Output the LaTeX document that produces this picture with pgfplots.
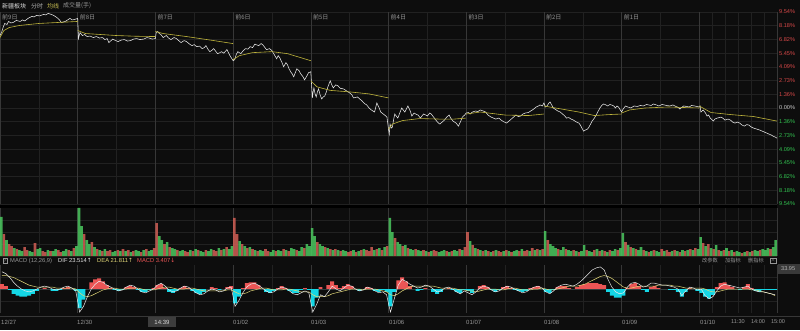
\documentclass[border=0pt]{standalone}
\usepackage{fontspec}
\setmainfont{Liberation Sans}
\newfontfamily\cjk{Noto Sans CJK SC}
\newfontfamily\djv{DejaVu Sans}
\usepackage{pgfplots}
\pgfplotsset{compat=1.18}
\usepackage{pgfplotstable}
\definecolor{bg}{RGB}{13,13,13}
\definecolor{gridc}{RGB}{33,33,33}
\definecolor{dayc}{RGB}{55,55,55}
\definecolor{pw}{RGB}{232,232,232}
\definecolor{py}{RGB}{190,180,60}
\definecolor{upr}{RGB}{215,72,72}
\definecolor{dng}{RGB}{50,195,80}
\definecolor{vr}{RGB}{210,95,85}
\definecolor{vg}{RGB}{75,200,95}
\definecolor{mr}{RGB}{235,85,85}
\definecolor{mc}{RGB}{20,215,230}
\definecolor{deac}{RGB}{225,215,120}
\definecolor{txt}{RGB}{150,150,150}

\pgfplotstableread[row sep=\\]{r g\\
0 39\\ 22 0\\ 0 16\\ 12 0\\ 10 0\\ 0 8\\ 7 0\\ 0 6\\ 0 5\\ 9 0\\ 6 0\\ 0 5\\ 0 4\\ 13 0\\ 0 7\\ 0 8\\ 5 0\\ 4 0\\ 0 6\\ 5 0\\ 0 5\\ 0 7\\ 6 0\\ 4 0\\ 0 5\\ 0 7\\ 6 0\\ 0 5\\ 8 0\\ 0 10\\
0 48\\ 0 30\\ 22 0\\ 0 16\\ 0 12\\ 14 0\\ 0 9\\ 7 0\\ 0 6\\ 5 0\\ 0 7\\ 5 0\\ 6 0\\ 0 4\\ 0 5\\ 6 0\\ 0 5\\ 7 0\\ 0 5\\ 6 0\\ 0 4\\ 5 0\\ 0 6\\ 0 5\\ 4 0\\ 0 6\\ 7 0\\ 0 5\\ 0 6\\ 8 0\\
33 0\\ 0 20\\ 0 16\\ 12 0\\ 0 14\\ 9 0\\ 0 8\\ 0 7\\ 6 0\\ 0 5\\ 0 6\\ 5 0\\ 4 0\\ 0 6\\ 5 0\\ 0 7\\ 6 0\\ 0 5\\ 0 4\\ 6 0\\ 0 5\\ 0 7\\ 6 0\\ 5 0\\ 0 8\\ 6 0\\ 0 7\\ 9 0\\ 0 7\\ 0 10\\
38 0\\ 22 0\\ 0 15\\ 12 0\\ 0 10\\ 8 0\\ 0 9\\ 7 0\\ 0 6\\ 5 0\\ 0 6\\ 0 5\\ 7 0\\ 5 0\\ 0 4\\ 0 6\\ 5 0\\ 0 6\\ 0 5\\ 7 0\\ 0 6\\ 5 0\\ 0 8\\ 0 7\\ 6 0\\ 0 5\\ 0 9\\ 8 0\\ 0 12\\ 0 10\\
0 28\\ 0 20\\ 14 0\\ 0 12\\ 0 10\\ 9 0\\ 0 8\\ 7 0\\ 0 6\\ 7 0\\ 0 6\\ 5 0\\ 0 6\\ 0 5\\ 4 0\\ 5 0\\ 0 6\\ 4 0\\ 0 5\\ 6 0\\ 0 7\\ 6 0\\ 5 0\\ 9 0\\ 0 6\\ 7 0\\ 0 8\\ 6 0\\ 0 9\\ 10 0\\
0 38\\ 0 24\\ 18 0\\ 0 14\\ 0 12\\ 10 0\\ 0 11\\ 8 0\\ 0 7\\ 0 6\\ 7 0\\ 0 6\\ 0 5\\ 6 0\\ 0 5\\ 4 0\\ 0 5\\ 6 0\\ 5 0\\ 0 4\\ 0 5\\ 0 6\\ 5 0\\ 0 4\\ 5 0\\ 0 6\\ 0 5\\ 7 0\\ 0 6\\ 9 0\\
24 0\\ 0 15\\ 11 0\\ 0 8\\ 7 0\\ 0 6\\ 5 0\\ 0 6\\ 5 0\\ 0 4\\ 5 0\\ 0 6\\ 5 0\\ 4 0\\ 0 5\\ 6 0\\ 0 5\\ 4 0\\ 0 5\\ 0 6\\ 5 0\\ 0 7\\ 5 0\\ 6 0\\ 0 5\\ 8 0\\ 0 6\\ 7 0\\ 0 6\\ 7 0\\
0 25\\ 16 0\\ 0 12\\ 0 10\\ 0 8\\ 7 0\\ 0 6\\ 0 9\\ 7 0\\ 0 6\\ 0 5\\ 6 0\\ 0 5\\ 4 0\\ 0 5\\ 0 11\\ 6 0\\ 0 5\\ 0 4\\ 6 0\\ 0 7\\ 5 0\\ 0 6\\ 5 0\\ 0 4\\ 6 0\\ 0 5\\ 0 7\\ 6 0\\ 0 8\\
0 23\\ 14 0\\ 0 11\\ 9 0\\ 0 8\\ 7 0\\ 0 6\\ 0 9\\ 6 0\\ 0 5\\ 4 0\\ 0 5\\ 6 0\\ 0 5\\ 0 4\\ 7 0\\ 0 5\\ 6 0\\ 4 0\\ 0 5\\ 6 0\\ 0 5\\ 4 0\\ 0 6\\ 5 0\\ 0 6\\ 7 0\\ 0 6\\ 8 0\\ 0 7\\
0 19\\ 13 0\\ 0 10\\ 12 0\\ 0 8\\ 7 0\\ 0 11\\ 6 0\\ 0 5\\ 6 0\\ 0 8\\ 5 0\\ 0 6\\ 4 0\\ 0 5\\ 0 4\\ 3 0\\ 0 4\\ 5 0\\ 0 4\\ 5 0\\ 0 6\\ 0 5\\ 6 0\\ 0 7\\ 0 6\\ 0 8\\ 7 0\\ 0 9\\ 0 16\\
}\vol

\pgfplotstableread[row sep=\\]{h dif dea\\
5 18 14\\ 3 16 14\\ -1 12 13\\ -5 7 12\\ -7 3 10\\ -8 0 8\\ -8 -2 6\\ -7 -3 4\\ -5 -2 3\\ -2 0 2\\ 0 2 2\\ 1 3 2\\ 0 2 2\\ -2 0 2\\ -2 -1 1\\ -1 0 1\\ 1 2 1\\ 2 3 1\\ 0 1 1\\ -2 -2 0\\
-20 -24 -4\\ -11 -18 -7\\ 0 -8 -8\\ 7 0 -7\\ 10 5 -5\\ 11 8 -3\\ 8 7 -1\\ 4 4 0\\ 1 2 1\\ -1 0 1\\ -2 -2 0\\ -1 -1 0\\ 2 2 0\\ 3 4 1\\ 2 3 1\\ -1 0 1\\ -3 -3 0\\ -3 -4 -1\\ -1 -2 -1\\ 1 0 -1\\
4 4 0\\ 5 6 1\\ 1 3 2\\ -3 -1 2\\ -4 -3 1\\ -2 -2 0\\ 1 1 0\\ 3 3 0\\ 1 2 1\\ -2 -1 1\\ -4 -4 0\\ -5 -6 -1\\ -3 -5 -2\\ 0 -2 -2\\ 2 0 -2\\ 1 -1 -2\\ -1 -3 -2\\ 0 -2 -2\\ 2 1 -1\\ 3 2 -1\\
-15 -18 -3\\ -8 -12 -5\\ 1 -4 -5\\ 6 2 -4\\ 7 5 -2\\ 7 6 -1\\ 4 4 0\\ 0 1 1\\ -3 -2 1\\ -4 -4 0\\ -2 -3 -1\\ 1 0 -1\\ 3 2 -1\\ 1 1 0\\ -2 -2 0\\ -4 -5 -1\\ -4 -6 -2\\ -1 -4 -3\\ 1 -2 -3\\ -1 -4 -3\\
-18 -24 -6\\ -9 -16 -8\\ 2 -6 -8\\ 0 -8 -8\\ 4 -3 -7\\ 8 3 -5\\ 4 0 -4\\ 1 -2 -3\\ 3 1 -2\\ 5 4 -1\\ 3 3 0\\ 0 0 0\\ -2 -2 0\\ 0 -1 -1\\ 2 2 0\\ 1 1 0\\ -2 -2 0\\ -3 -4 -1\\ -1 -3 -2\\ -3 -6 -3\\
-18 -24 -6\\ -3 -10 -7\\ 9 4 -5\\ 12 10 -2\\ 8 8 0\\ 3 5 2\\ 0 3 3\\ -2 1 3\\ -1 2 3\\ 1 4 3\\ 0 3 3\\ -3 0 3\\ -5 -3 2\\ -3 -2 1\\ 0 1 1\\ 1 2 1\\ -1 0 1\\ -3 -3 0\\ -4 -5 -1\\ -1 -2 -1\\
-2 -4 -2\\ -4 -6 -2\\ 0 -3 -3\\ 3 1 -2\\ 4 3 -1\\ 2 2 0\\ -1 -1 0\\ -3 -3 0\\ -1 -2 -1\\ 2 1 -1\\ 3 3 0\\ 1 2 1\\ -1 0 1\\ -2 -2 0\\ -3 -4 -1\\ -2 -3 -1\\ 1 0 -1\\ 2 2 0\\ 3 3 0\\ 0 1 1\\
-3 -3 0\\ -4 -5 -1\\ -1 -2 -1\\ 2 2 0\\ 3 4 1\\ 3 5 2\\ 1 4 3\\ 0 3 3\\ 2 5 3\\ 4 8 4\\ 5 12 5\\ 6 16 7\\ 6 20 9\\ 6 22 11\\ 5 23 13\\ 4 20 14\\ -3 10 13\\ -7 2 11\\ -9 -3 8\\ -9 -5 5\\
-7 -4 2\\ 1 2 1\\ 5 6 1\\ 6 7 2\\ 3 5 3\\ -1 2 3\\ -3 3 3\\ 2 6 3\\ 3 6 3\\ 1 5 4\\ 0 4 4\\ 0 4 4\\ -1 3 4\\ -1 2 3\\ -3 0 3\\ -8 -7 2\\ -3 -2 1\\ 1 2 1\\ 0 1 1\\ -2 -1 1\\
-4 0 1\\ -8 -7 0\\ -10 -10 -2\\ -6 -8 -3\\ 2 -2 -3\\ 6 3 -2\\ 7 5 -1\\ 4 4 0\\ 2 3 0\\ 0 2 0\\ -1 1 0\\ 2 2 0\\ 5 3 0\\ 1 0 -1\\ -2 -2 -1\\ -3 -3 -2\\ -1 -3 -3\\ -1 -4 -4\\ -1 -5 -5\\ -1 -6 -7\\
}\macd

\pgfplotsset{panel/.style={scale only axis, width=777pt, xmin=0, xmax=10,
  axis line style={draw=none}, major tick length=0pt,
  xtick={0.5,1.5,2.5,3.5,4.5,5.5,6.5,7.5,8.5,9.1667,9.3333,9.5,9.6667,9.8333},
  xmajorticks=false, ymajorticks=false,
  xmajorgrids, ymajorgrids, major grid style={gridc, line width=0.4pt},
  extra x ticks={0,1,2,3,4,5,6,7,8,9,10},
  extra x tick style={grid=major, xmajorticks=false, major grid style={dayc, line width=0.5pt}}}}

\begin{document}
\begin{tikzpicture}
\fill[bg] (0pt,0pt) rectangle (800pt,330pt);
\fill[black] (0pt,122pt) rectangle (777pt,126pt);

% header
\node[anchor=west, inner sep=0pt, text=white!85!black, font=\cjk\fontsize{6}{7}\selectfont] at (2pt,324pt) {新疆板块};
\node[anchor=west, inner sep=0pt, text=white!70!black, font=\cjk\fontsize{6}{7}\selectfont] at (31pt,324pt) {分时};
\node[anchor=west, inner sep=0pt, text=py!90!white, font=\cjk\fontsize{6}{7}\selectfont] at (47pt,324pt) {均线};
\node[anchor=west, inner sep=0pt, text=txt, font=\cjk\fontsize{6}{7}\selectfont] at (63pt,324pt) {成交量(手)};

% main price panel
\begin{axis}[panel, at={(0pt,126pt)}, anchor=south west, height=192pt,
  ymin=-9.54, ymax=9.54,
  ytick={-9.54,-8.18,-6.82,-5.45,-4.09,-2.73,-1.36,0,1.36,2.73,4.09,5.45,6.82,8.18,9.54}]
\addplot[pw, line width=0.55pt] table[row sep=\\] {x y\\
0 7.2\\ 0.02 7.5\\ 0.04 8.0\\ 0.06 8.4\\ 0.09 8.3\\ 0.11 8.6\\ 0.14 8.45\\ 0.17 8.5\\ 0.21 8.7\\ 0.26 8.6\\ 0.29 8.75\\ 0.32 8.65\\ 0.36 8.9\\ 0.41 9.1\\ 0.44 9.05\\ 0.47 9.2\\ 0.51 9.15\\ 0.56 9.3\\ 0.59 9.25\\ 0.62 9.4\\ 0.66 9.3\\ 0.69 9.2\\ 0.73 9.0\\ 0.76 8.8\\ 0.79 8.5\\ 0.84 8.6\\ 0.87 8.75\\ 0.9 8.9\\ 0.93 8.75\\ 0.96 8.8\\ 1.0 8.9\\
1.01 6.9\\ 1.03 7.5\\ 1.06 7.2\\ 1.09 7.3\\ 1.12 7.1\\ 1.16 7.15\\ 1.2 7.0\\ 1.24 7.1\\ 1.28 6.95\\ 1.32 7.0\\ 1.35 6.8\\ 1.38 6.9\\ 1.4 6.5\\ 1.43 6.7\\ 1.45 6.85\\ 1.49 6.7\\ 1.52 6.6\\ 1.56 6.75\\ 1.6 6.8\\ 1.64 6.65\\ 1.68 6.7\\ 1.72 6.85\\ 1.76 6.9\\ 1.8 6.8\\ 1.85 6.85\\ 1.89 7.0\\ 1.92 6.95\\ 1.96 6.85\\ 2.0 6.9\\
2.01 7.5\\ 2.03 7.6\\ 2.05 7.4\\ 2.07 7.3\\ 2.1 7.0\\ 2.14 7.2\\ 2.17 6.95\\ 2.2 6.8\\ 2.24 7.0\\ 2.27 6.9\\ 2.3 6.7\\ 2.33 6.5\\ 2.37 6.7\\ 2.4 6.6\\ 2.44 6.35\\ 2.47 6.2\\ 2.5 6.3\\ 2.53 6.1\\ 2.57 6.15\\ 2.6 5.9\\ 2.63 6.0\\ 2.65 6.2\\ 2.68 5.8\\ 2.7 5.6\\ 2.73 5.75\\ 2.75 5.9\\ 2.78 5.6\\ 2.8 5.4\\ 2.83 5.5\\ 2.85 5.6\\ 2.88 5.45\\ 2.92 5.8\\ 2.96 5.2\\ 3.0 4.7\\
3.02 4.8\\ 3.04 5.3\\ 3.06 5.6\\ 3.1 5.4\\ 3.13 5.7\\ 3.16 5.9\\ 3.19 5.85\\ 3.22 6.1\\ 3.25 6.0\\ 3.28 6.35\\ 3.31 6.25\\ 3.33 6.2\\ 3.36 6.4\\ 3.38 6.3\\ 3.41 6.0\\ 3.43 5.8\\ 3.47 5.9\\ 3.5 5.7\\ 3.53 5.3\\ 3.56 4.9\\ 3.58 5.2\\ 3.6 5.0\\ 3.63 4.5\\ 3.65 4.1\\ 3.68 4.5\\ 3.7 4.3\\ 3.72 3.9\\ 3.74 3.6\\ 3.76 3.4\\ 3.78 3.1\\ 3.8 3.5\\ 3.82 3.9\\ 3.85 3.7\\ 3.87 3.4\\ 3.9 3.1\\ 3.92 2.8\\ 3.95 3.2\\ 3.97 3.5\\ 4.0 3.6\\
4.02 1.0\\ 4.03 1.6\\ 4.04 2.0\\ 4.055 1.4\\ 4.07 1.1\\ 4.085 1.6\\ 4.1 1.9\\ 4.12 1.3\\ 4.14 0.9\\ 4.16 1.1\\ 4.18 1.2\\ 4.2 1.6\\ 4.22 2.1\\ 4.25 2.7\\ 4.27 2.3\\ 4.29 2.0\\ 4.32 2.3\\ 4.35 2.2\\ 4.38 1.95\\ 4.42 1.9\\ 4.46 1.7\\ 4.5 1.5\\ 4.53 1.3\\ 4.55 1.0\\ 4.6 1.1\\ 4.63 0.9\\ 4.66 0.7\\ 4.69 0.45\\ 4.72 0.3\\ 4.75 0.0\\ 4.78 -0.2\\ 4.82 -0.4\\ 4.85 0.5\\ 4.88 0.0\\ 4.9 -0.4\\ 4.95 -0.7\\ 4.98 -0.9\\ 5.0 -2.1\\
5.01 -2.6\\ 5.02 -1.6\\ 5.035 -2.0\\ 5.05 -1.9\\ 5.065 -1.2\\ 5.08 -0.6\\ 5.1 -0.8\\ 5.12 -1.0\\ 5.15 -0.4\\ 5.17 0.0\\ 5.19 -0.2\\ 5.21 -0.4\\ 5.23 -0.1\\ 5.25 0.2\\ 5.28 -0.3\\ 5.3 -0.8\\ 5.33 -0.5\\ 5.35 -0.6\\ 5.38 -0.7\\ 5.41 -1.0\\ 5.43 -0.8\\ 5.45 -0.6\\ 5.48 -0.7\\ 5.5 -0.8\\ 5.53 -0.5\\ 5.55 -0.6\\ 5.58 -0.9\\ 5.6 -1.1\\ 5.63 -1.4\\ 5.66 -1.6\\ 5.69 -1.4\\ 5.72 -1.2\\ 5.75 -0.9\\ 5.78 -0.7\\ 5.8 -1.0\\ 5.83 -1.3\\ 5.87 -1.5\\ 5.9 -1.8\\ 5.93 -1.3\\ 5.95 -0.9\\ 5.98 -0.7\\ 6.0 -0.5\\
6.03 -0.45\\ 6.05 -0.6\\ 6.08 -0.4\\ 6.12 -0.3\\ 6.15 -0.35\\ 6.18 -0.2\\ 6.22 -0.3\\ 6.25 -0.4\\ 6.28 -0.7\\ 6.32 -0.9\\ 6.35 -1.0\\ 6.38 -1.1\\ 6.42 -1.0\\ 6.45 -1.2\\ 6.48 -1.35\\ 6.52 -1.5\\ 6.55 -1.3\\ 6.58 -1.1\\ 6.61 -0.9\\ 6.64 -0.7\\ 6.67 -0.85\\ 6.7 -0.8\\ 6.73 -0.6\\ 6.76 -0.5\\ 6.8 -0.45\\ 6.83 -0.3\\ 6.87 -0.1\\ 6.9 0.1\\ 6.93 0.2\\ 6.95 0.3\\ 6.98 0.2\\ 7.0 0.5\\
7.02 0.1\\ 7.04 0.2\\ 7.06 0.45\\ 7.08 0.6\\ 7.1 0.3\\ 7.12 0.0\\ 7.15 -0.15\\ 7.18 -0.3\\ 7.21 -0.4\\ 7.24 -0.6\\ 7.27 -0.8\\ 7.29 -1.0\\ 7.32 -0.95\\ 7.35 -1.1\\ 7.38 -1.2\\ 7.42 -1.4\\ 7.45 -1.5\\ 7.47 -1.7\\ 7.49 -2.0\\ 7.51 -2.3\\ 7.53 -2.2\\ 7.56 -2.1\\ 7.58 -1.9\\ 7.6 -1.6\\ 7.62 -1.3\\ 7.65 -1.0\\ 7.68 -0.6\\ 7.7 -0.3\\ 7.72 0.0\\ 7.75 0.3\\ 7.77 0.4\\ 7.8 0.3\\ 7.82 0.2\\ 7.85 0.35\\ 7.87 0.3\\ 7.9 0.2\\ 7.92 0.0\\ 7.94 0.2\\ 7.96 0.1\\ 8.0 -0.4\\
8.02 -0.1\\ 8.05 0.2\\ 8.08 0.1\\ 8.12 0.0\\ 8.16 0.2\\ 8.2 0.15\\ 8.24 0.25\\ 8.28 0.2\\ 8.32 0.35\\ 8.35 0.3\\ 8.38 0.25\\ 8.41 0.4\\ 8.45 0.3\\ 8.48 0.2\\ 8.52 0.35\\ 8.55 0.3\\ 8.58 0.25\\ 8.62 0.2\\ 8.66 0.3\\ 8.7 0.15\\ 8.73 0.05\\ 8.75 -0.1\\ 8.78 0.1\\ 8.8 0.2\\ 8.84 0.15\\ 8.87 0.1\\ 8.9 0.25\\ 8.94 0.2\\ 8.97 0.15\\ 9.0 0.1\\
9.01 0.2\\ 9.02 -0.4\\ 9.05 -0.2\\ 9.08 -0.5\\ 9.1 -0.8\\ 9.12 -0.7\\ 9.14 -1.0\\ 9.16 -1.15\\ 9.18 -1.3\\ 9.2 -1.1\\ 9.23 -1.0\\ 9.26 -0.95\\ 9.28 -0.9\\ 9.31 -1.05\\ 9.33 -1.2\\ 9.37 -1.1\\ 9.4 -1.2\\ 9.43 -1.4\\ 9.46 -1.5\\ 9.49 -1.4\\ 9.52 -1.5\\ 9.55 -1.7\\ 9.58 -1.8\\ 9.61 -1.65\\ 9.64 -1.7\\ 9.67 -1.9\\ 9.7 -2.0\\ 9.74 -2.1\\ 9.78 -2.2\\ 9.81 -2.3\\ 9.84 -2.4\\ 9.87 -2.5\\ 9.9 -2.6\\ 9.93 -2.7\\ 9.95 -2.8\\ 9.98 -2.9\\ 10.0 -3.0\\
};
\addplot[py, line width=0.6pt, unbounded coords=jump] table[row sep=\\] {x y\\
0.0 7.0\\ 0.05 7.7\\ 0.12 8.0\\ 0.25 8.2\\ 0.5 8.4\\ 0.75 8.5\\ 1.0 8.6\\ 1.0 nan\\
1.0 7.7\\ 1.1 7.4\\ 1.3 7.3\\ 1.5 7.2\\ 1.75 7.13\\ 2.0 7.1\\ 2.0 nan\\
2.0 7.6\\ 2.1 7.4\\ 2.4 7.1\\ 2.75 6.7\\ 3.0 6.4\\ 3.0 nan\\
3.0 4.8\\ 3.08 5.2\\ 3.25 5.5\\ 3.5 5.6\\ 3.7 5.4\\ 4.0 4.7\\ 4.0 nan\\
4.0 2.7\\ 4.08 2.1\\ 4.25 1.75\\ 4.5 1.6\\ 4.75 1.4\\ 5.0 1.0\\ 5.0 nan\\
5.0 -2.1\\ 5.05 -1.6\\ 5.18 -1.25\\ 5.4 -1.05\\ 5.65 -1.1\\ 5.85 -1.1\\ 6.0 -1.0\\ 6.0 nan\\
6.0 -0.6\\ 6.18 -0.4\\ 6.5 -0.7\\ 6.8 -0.75\\ 7.0 -0.6\\ 7.0 nan\\
7.0 0.2\\ 7.15 0.0\\ 7.45 -0.4\\ 7.65 -0.75\\ 7.85 -0.65\\ 8.0 -0.6\\ 8.0 nan\\
8.0 -0.5\\ 8.1 -0.2\\ 8.3 0.0\\ 8.6 0.1\\ 9.0 0.0\\ 9.0 nan\\
9.0 0.2\\ 9.15 -0.45\\ 9.4 -0.65\\ 9.7 -0.85\\ 10.0 -1.3\\
};
\end{axis}

% right percent labels
\foreach \t [count=\i from 0] in {9.54,8.18,6.82,5.45,4.09,2.73,1.36}
  \node[anchor=west, inner sep=0pt, text=upr, font=\fontsize{5.6}{6}\selectfont] at (779pt,{(318-13.714*\i)*1pt}) {\t\%};
\node[anchor=west, inner sep=0pt, text=white!80!black, font=\fontsize{5.6}{6}\selectfont] at (779pt,222pt) {0.00\%};
\foreach \t [count=\i from 8] in {1.36,2.73,4.09,5.45,6.82,8.18,9.54}
  \node[anchor=west, inner sep=0pt, text=dng, font=\fontsize{5.6}{6}\selectfont] at (779pt,{(318-13.714*\i)*1pt}) {\t\%};

% day labels
\foreach \d/\n in {0/9,1/8,2/7,3/6,4/5,5/4,6/3,7/2,8/1}
  \node[anchor=west, inner sep=0pt, text=txt, font=\cjk\fontsize{6}{7}\selectfont] at ({(77.7*\d+2)*1pt},313pt) {前\n 日};

% volume panel
\begin{axis}[panel, at={(0pt,74pt)}, anchor=south west, height=48pt,
  ymin=0, ymax=48, ytick={12,24,36}]
\addplot[ybar, bar width=0.0333, bar shift=0pt, fill=vr, draw=none, fill opacity=0.85] table[x expr=(\coordindex+0.5)/30, y=r] {\vol};
\addplot[ybar, bar width=0.0333, bar shift=0pt, fill=vg, draw=none, fill opacity=0.85] table[x expr=(\coordindex+0.5)/30, y=g] {\vol};
\end{axis}

% MACD header
\node[draw=txt, inner sep=0.5pt, text=txt, font=\fontsize{5}{5}\selectfont] at (5pt,69.5pt) {?};
\node[anchor=west, inner sep=0pt, text=txt, font=\fontsize{5.8}{6}\selectfont] at (10pt,69.5pt) {MACD (12,26,9)};
\node[anchor=west, inner sep=0pt, text=white!90!black, font=\fontsize{5.8}{6}\selectfont] at (58pt,69.5pt) {DIF 23.514{\djv ↑}};
\node[anchor=west, inner sep=0pt, text=deac, font=\fontsize{5.8}{6}\selectfont] at (97pt,69.5pt) {DEA 21.811{\djv ↑}};
\node[anchor=west, inner sep=0pt, text=mr, font=\fontsize{5.8}{6}\selectfont] at (137pt,69.5pt) {MACD 3.407{\djv ↓}};
\node[anchor=west, inner sep=0pt, text=txt, font=\cjk\fontsize{5.2}{6}\selectfont] at (702pt,69.5pt) {改参数};
\node[anchor=west, inner sep=0pt, text=txt, font=\cjk\fontsize{5.2}{6}\selectfont] at (725pt,69.5pt) {加指标};
\node[anchor=west, inner sep=0pt, text=txt, font=\cjk\fontsize{5.2}{6}\selectfont] at (748pt,69.5pt) {删指标};
\node[draw=txt, inner sep=0.6pt, text=txt, font=\fontsize{5}{5}\selectfont] at (773pt,69.5pt) {$\times$};

% MACD panel
\begin{axis}[panel, at={(0pt,17pt)}, anchor=south west, height=48pt,
  ymin=-25, ymax=25, ytick={-12.5,0,12.5}]
\addplot[ybar, bar width=0.05, bar shift=0pt, fill=mr, draw=none] table[x expr=(\coordindex+0.5)/20, y expr={max(\thisrow{h},0)}] {\macd};
\addplot[ybar, bar width=0.05, bar shift=0pt, fill=mc, draw=none] table[x expr=(\coordindex+0.5)/20, y expr={min(\thisrow{h},0)}] {\macd};
\addplot[deac, line width=0.5pt] table[x expr=(\coordindex+0.5)/20, y=dea] {\macd};
\addplot[white!92!black, line width=0.5pt] table[x expr=(\coordindex+0.5)/20, y=dif] {\macd};
\end{axis}
\fill[white!18!bg] (778pt,56pt) rectangle (800pt,66pt);
\node[anchor=west, inner sep=0pt, text=white!70!black, font=\fontsize{5.6}{6}\selectfont] at (781pt,61pt) {33.95};

% bottom time axis
\draw[dayc, line width=0.5pt] (0pt,14pt) -- (800pt,14pt);
\foreach \x/\t in {1/12\slash 27,77/12\slash 30,233/01\slash 02,311/01\slash 03,389/01\slash 06,466/01\slash 07,544/01\slash 08,622/01\slash 09,700/01\slash 10}
  \node[anchor=west, inner sep=0pt, text=txt, font=\fontsize{6}{7}\selectfont] at (\x pt,8pt) {\t};
\foreach \x/\t in {738/11:30,758/14:00,778/15:00}
  \node[inner sep=0pt, text=txt, font=\fontsize{5.6}{7}\selectfont] at (\x pt,8pt) {\t};
\fill[white!20!bg] (148pt,3pt) rectangle (176pt,13pt);
\node[inner sep=0pt, text=white!85!black, font=\fontsize{6}{7}\selectfont] at (162pt,8pt) {14:39};

\pgfresetboundingbox
\useasboundingbox (0pt,0pt) rectangle (800pt,330pt);
\end{tikzpicture}
\end{document}
